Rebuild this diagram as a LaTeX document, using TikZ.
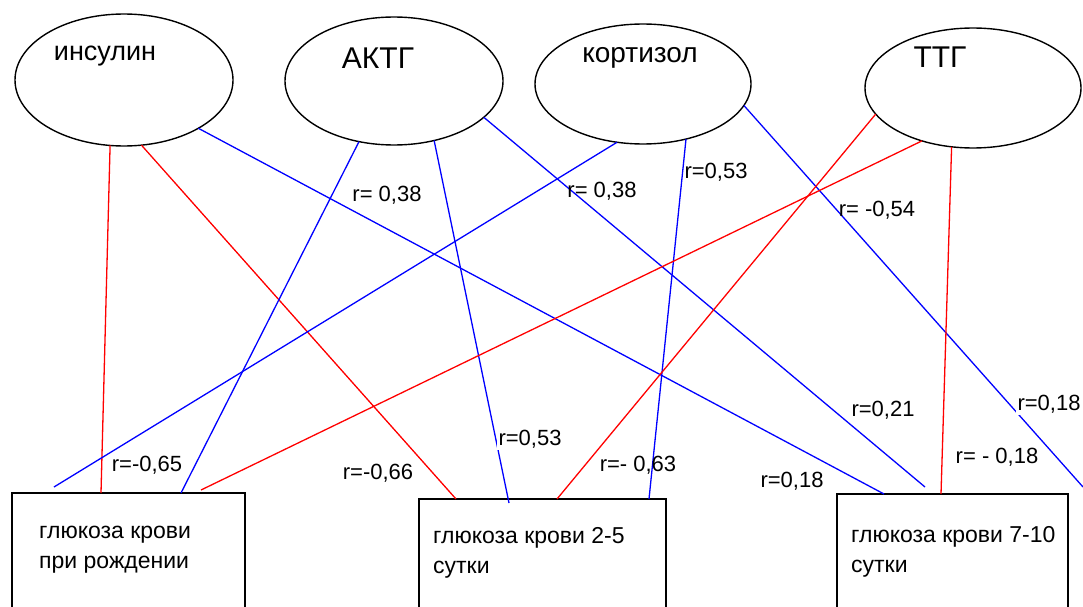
\documentclass[tikz,border=0pt]{standalone}
\usepackage{fontspec}
\setmainfont{Liberation Sans}
\usetikzlibrary{shapes.geometric}
\begin{document}
\begin{tikzpicture}[x=1pt,y=-1pt,
  oval/.style={ellipse, draw=black, line width=1.4pt, inner sep=0pt, outer sep=0pt},
  box/.style={rectangle, draw=black, line width=1.5pt, inner sep=0pt, outer sep=0pt, anchor=north west},
  redlink/.style={draw=red, line width=1.3pt},
  bluelink/.style={draw=blue, line width=1.3pt},
  rlab/.style={font=\fontsize{22}{26}\selectfont, inner sep=1pt},
  rlabw/.style={rlab, fill=white, inner sep=2pt},
  otext/.style={font=\fontsize{#1}{#1}\selectfont, inner sep=0pt},
  btext/.style={font=\fontsize{23}{30}\selectfont, align=left, anchor=west, inner sep=0pt}
]
\useasboundingbox (0,0) rectangle (1083,607);
\clip (0,0) rectangle (1083,607);

% hormones
\node[oval, minimum width=218pt, minimum height=132pt] (ins) at (124,80) {};
\node[oval, minimum width=218pt, minimum height=128pt] (actg) at (394,81) {};
\node[oval, minimum width=216pt, minimum height=120pt] (cort) at (643,84) {};
\node[oval, minimum width=216pt, minimum height=120pt] (ttg) at (973,88) {};
\node[otext=27] (tins) at (105,56) {инсулин};
\node[otext=30] (tactg) at (378,58) {АКТГ};
\node[otext=28] (tcort) at (640,58) {кортизол};
\node[otext=30] (tttg) at (940,57) {ТТГ};

% blood glucose boxes
\node[box, minimum width=233pt, minimum height=130pt] (b1) at (12,493) {};
\node[box, minimum width=247pt, minimum height=130pt] (b2) at (419,499) {};
\node[box, minimum width=231pt, minimum height=130pt] (b3) at (837,494) {};
\node[btext] (tb1) at (39,550) {глюкоза крови\\при рождении};
\node[btext] (tb2) at (433,553) {глюкоза крови 2-5\\сутки};
\node[btext] (tb3) at (851,552) {глюкоза крови 7-10\\сутки};

\coordinate (rim) at (1083,487);

% insulin
\draw[redlink] (ins.-102) -- ([xshift=89pt]b1.north west);
\draw[redlink] (ins.-75) -- ([xshift=37pt]b2.north west);
\draw[bluelink] (ins.-33.7) -- ([xshift=47pt]b3.north west);
% ACTH
\draw[bluelink] (actg.-120.8) -- ([xshift=169pt]b1.north west);
\draw[bluelink] (actg.-56.3) -- ([xshift=90pt,yshift=-4pt]b2.north west);
\draw[bluelink] (actg.-22.6) -- ([xshift=88pt,yshift=7pt]b3.north west);
% cortisol
\draw[bluelink] (cort.-114) -- ([xshift=42pt,yshift=6pt]b1.north west);
\draw[bluelink] (cort.-52.8) -- ([xshift=230pt]b2.north west);
\draw[bluelink] (cort.-12.9) -- (rim);
% TSH
\draw[redlink] (ttg.-165) -- ([xshift=138pt]b2.north west);
\draw[redlink] (ttg.-134) -- ([xshift=189pt,yshift=3pt]b1.north west);
\draw[redlink] (ttg.-110) -- ([xshift=104pt]b3.north west);

% correlation coefficients
\node[rlab] (r1) at (387,195) {r= 0,38};
\node[rlab] (r2) at (602,191) {r= 0,38};
\node[rlab] (r3) at (716,172) {r=0,53};
\node[rlab] (r4) at (877,210) {r= -0,54};
\node[rlab] (r5) at (147,465) {r=-0,65};
\node[rlab] (r6) at (378,473) {r=-0,66};
\node[rlabw] (r7) at (530,439) {r=0,53};
\node[rlab] (r8) at (638,465) {r=- 0,63};
\node[rlab] (r9) at (792,481) {r=0,18};
\node[rlab] (r10) at (883,410) {r=0,21};
\node[rlabw] (r11) at (1049,404) {r=0,18};
\node[rlab] (r12) at (997,457) {r= - 0,18};
\end{tikzpicture}
\end{document}
